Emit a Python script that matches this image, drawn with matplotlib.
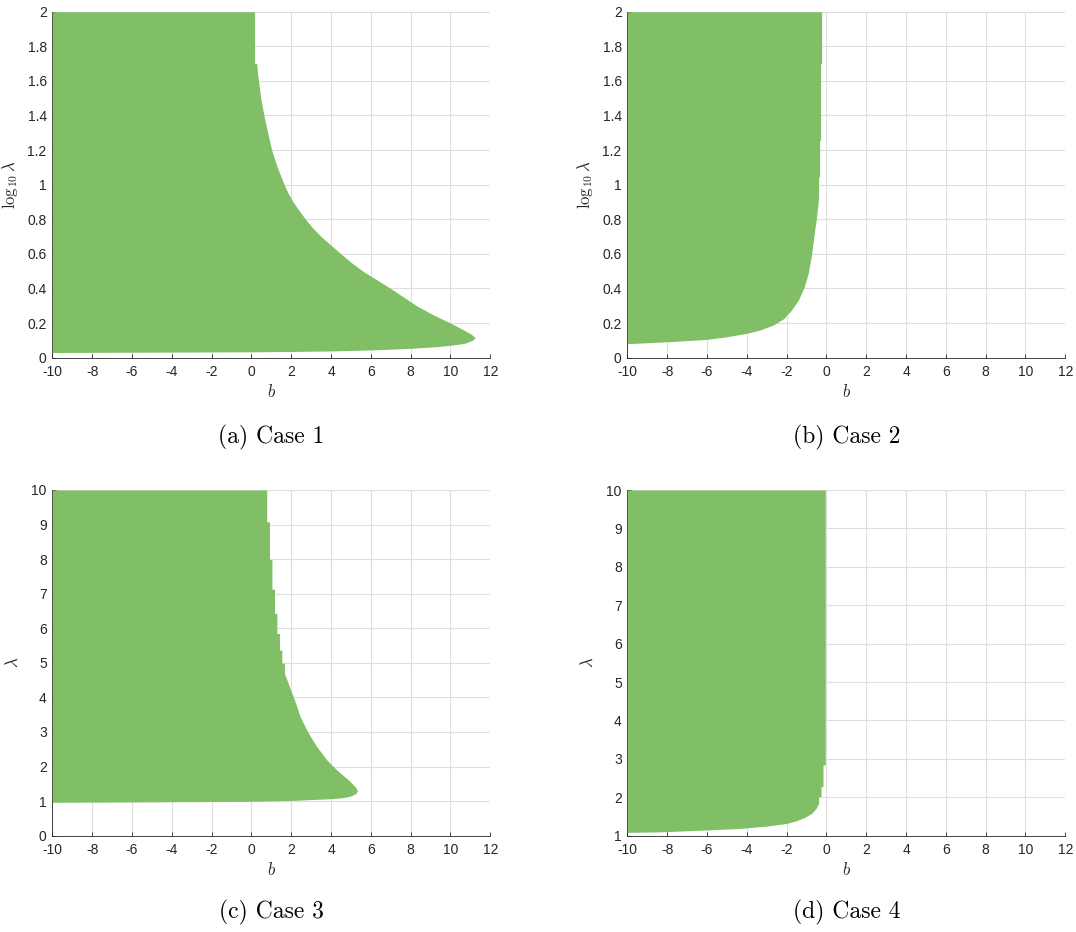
import matplotlib
matplotlib.use("Agg")
import matplotlib.pyplot as plt

plt.rcParams['mathtext.fontset'] = 'cm'
plt.rcParams['axes.unicode_minus'] = False
plt.rcParams['font.family'] = ['Liberation Sans', 'DejaVu Sans']

# ---------------- data ----------------
b_ticks = [-10, -8, -6, -4, -2, 0, 2, 4, 6, 8, 10, 12]
b_tick_labels = ['-10', '-8', '-6', '-4', '-2', '0', '2', '4', '6', '8', '10', '12']
loglam_ticks = [0, 0.2, 0.4, 0.6, 0.8, 1.0, 1.2, 1.4, 1.6, 1.8, 2.0]
loglam_tick_labels = ['0', '0.2', '0.4', '0.6', '0.8', '1', '1.2', '1.4', '1.6', '1.8', '2']
lam_ticks_c = [0, 1, 2, 3, 4, 5, 6, 7, 8, 9, 10]
lam_ticks_d = [1, 2, 3, 4, 5, 6, 7, 8, 9, 10]

# Case 1: region from b=-10 to right edge, as function of log10(lambda)
case1_y = [0.030, 0.032, 0.034, 0.036, 0.039, 0.045, 0.054, 0.064, 0.072, 0.083,
           0.100, 0.116, 0.135, 0.155, 0.20, 0.25, 0.30, 0.35, 0.40, 0.45,
           0.50, 0.55, 0.60, 0.65, 0.70, 0.75, 0.80, 0.85, 0.90, 0.95,
           1.00, 1.10, 1.20, 1.30, 1.40, 1.50, 1.60, 1.65, 1.70, 1.70, 2.00]
case1_b = [-10.0, -5.0, 0.0, 2.0, 4.0, 6.0, 8.0, 9.3, 10.0, 10.7,
           11.1, 11.24, 11.05, 10.75, 10.0, 9.1, 8.3, 7.65, 7.0, 6.3,
           5.6, 5.02, 4.5, 4.0, 3.5, 3.08, 2.72, 2.4, 2.1, 1.85,
           1.65, 1.30, 1.02, 0.82, 0.63, 0.47, 0.36, 0.30, 0.27, 0.16, 0.16]

# Case 2
case2_y = [0.081, 0.092, 0.106, 0.121, 0.141, 0.160, 0.189, 0.227, 0.276, 0.333,
           0.41, 0.49, 0.60, 0.72, 0.815, 0.93, 1.046, 1.046, 1.256, 1.256,
           1.70, 1.70, 2.00]
case2_b = [-10.0, -8.0, -6.0, -5.0, -4.0, -3.34, -2.67, -2.13, -1.75, -1.41,
           -1.11, -0.91, -0.74, -0.61, -0.49, -0.39, -0.39, -0.34, -0.34, -0.29,
           -0.29, -0.24, -0.24]

# Case 3: lambda
case3_y = [0.966, 0.975, 0.995, 1.02, 1.07, 1.10, 1.15, 1.22, 1.30, 1.42,
           1.61, 1.90, 2.19, 2.57, 2.96, 3.44, 3.92, 4.31, 4.70, 4.99,
           4.99, 5.37, 5.37, 5.85, 5.85, 6.43, 6.43, 7.13, 7.13, 7.99,
           7.99, 9.08, 9.08, 10.0]
case3_b = [-10.0, -6.0, 0.0, 2.0, 4.0, 4.6, 5.0, 5.25, 5.33, 5.21,
           4.88, 4.29, 3.79, 3.29, 2.87, 2.45, 2.17, 1.91, 1.66, 1.66,
           1.53, 1.53, 1.41, 1.41, 1.28, 1.28, 1.16, 1.16, 1.03, 1.03,
           0.91, 0.91, 0.77, 0.77]

# Case 4: lambda
case4_y = [1.087, 1.10, 1.15, 1.19, 1.25, 1.32, 1.39, 1.48, 1.58, 1.71,
           1.78, 1.84, 2.02, 2.02, 2.28, 2.28, 2.84, 2.84, 10.0]
case4_b = [-10.0, -8.36, -6.0, -4.34, -3.0, -2.0, -1.50, -1.08, -0.74, -0.52,
           -0.45, -0.39, -0.39, -0.27, -0.27, -0.17, -0.17, -0.055, -0.055]

captions = ['(a) Case 1', '(b) Case 2', '(c) Case 3', '(d) Case 4']
ylabels = [r'$\log_{10}\lambda$', r'$\log_{10}\lambda$', r'$\lambda$', r'$\lambda$']

# ---------------- figure ----------------
W, H = 1076, 932
fig = plt.figure(figsize=(W / 100, H / 100), dpi=100)

green = (0.5, 0.75, 0.4)

def px_axes(left, right, top, bottom):
    return fig.add_axes([left / W, 1 - bottom / H, (right - left) / W, (bottom - top) / H])

boxes = [(52.3, 490.3, 11.7, 357.7), (627.3, 1065.3, 11.7, 357.7),
         (52.3, 490.3, 490.0, 835.7), (627.3, 1065.3, 490.0, 835.7)]
data = [(case1_y, case1_b), (case2_y, case2_b), (case3_y, case3_b), (case4_y, case4_b)]
ylims = [(0, 2), (0, 2), (0, 10), (1, 10)]
yticks = [loglam_ticks, loglam_ticks, lam_ticks_c, lam_ticks_d]
ytlabels = [loglam_tick_labels, loglam_tick_labels,
            [str(v) for v in lam_ticks_c], [str(v) for v in lam_ticks_d]]
caption_y = [437, 437, 912, 912]

for i, (box, (yy, bb)) in enumerate(zip(boxes, data)):
    ax = px_axes(*box)
    ax.fill_betweenx(yy, -10, bb, color=green, linewidth=0, zorder=3)
    ax.set_xlim(-10, 12)
    ax.set_ylim(*ylims[i])
    ax.set_xticks(b_ticks)
    ax.set_xticklabels(b_tick_labels)
    ax.set_yticks(yticks[i])
    ax.set_yticklabels(ytlabels[i])
    ax.set_axisbelow(True)
    ax.grid(True, color='#dedede', linewidth=0.8)
    for s in ['top', 'right']:
        ax.spines[s].set_visible(False)
    for s in ['left', 'bottom']:
        ax.spines[s].set_color('#262626')
        ax.spines[s].set_linewidth(0.6)
    ax.tick_params(axis='both', direction='in', length=3, width=0.6, color='#262626',
                   labelsize=10, labelcolor='#262626')
    ax.tick_params(axis='x', pad=5.5)
    ax.tick_params(axis='y', pad=4)
    ax.set_xlabel(r'$b$', fontsize=12, color='#262626')
    ax.xaxis.set_label_coords(0.5, -25.0 / 346)
    ax.set_ylabel(ylabels[i], fontsize=12, color='#262626')
    ax.yaxis.set_label_coords(-32.0 / 438, 0.5)
    cx = (box[0] + box[1]) / 2 / W
    fig.text(cx, 1 - caption_y[i] / H, captions[i], family='cmr10', fontsize=17,
             ha='center', va='center', color='black')

fig.savefig('out.png', dpi=100)
